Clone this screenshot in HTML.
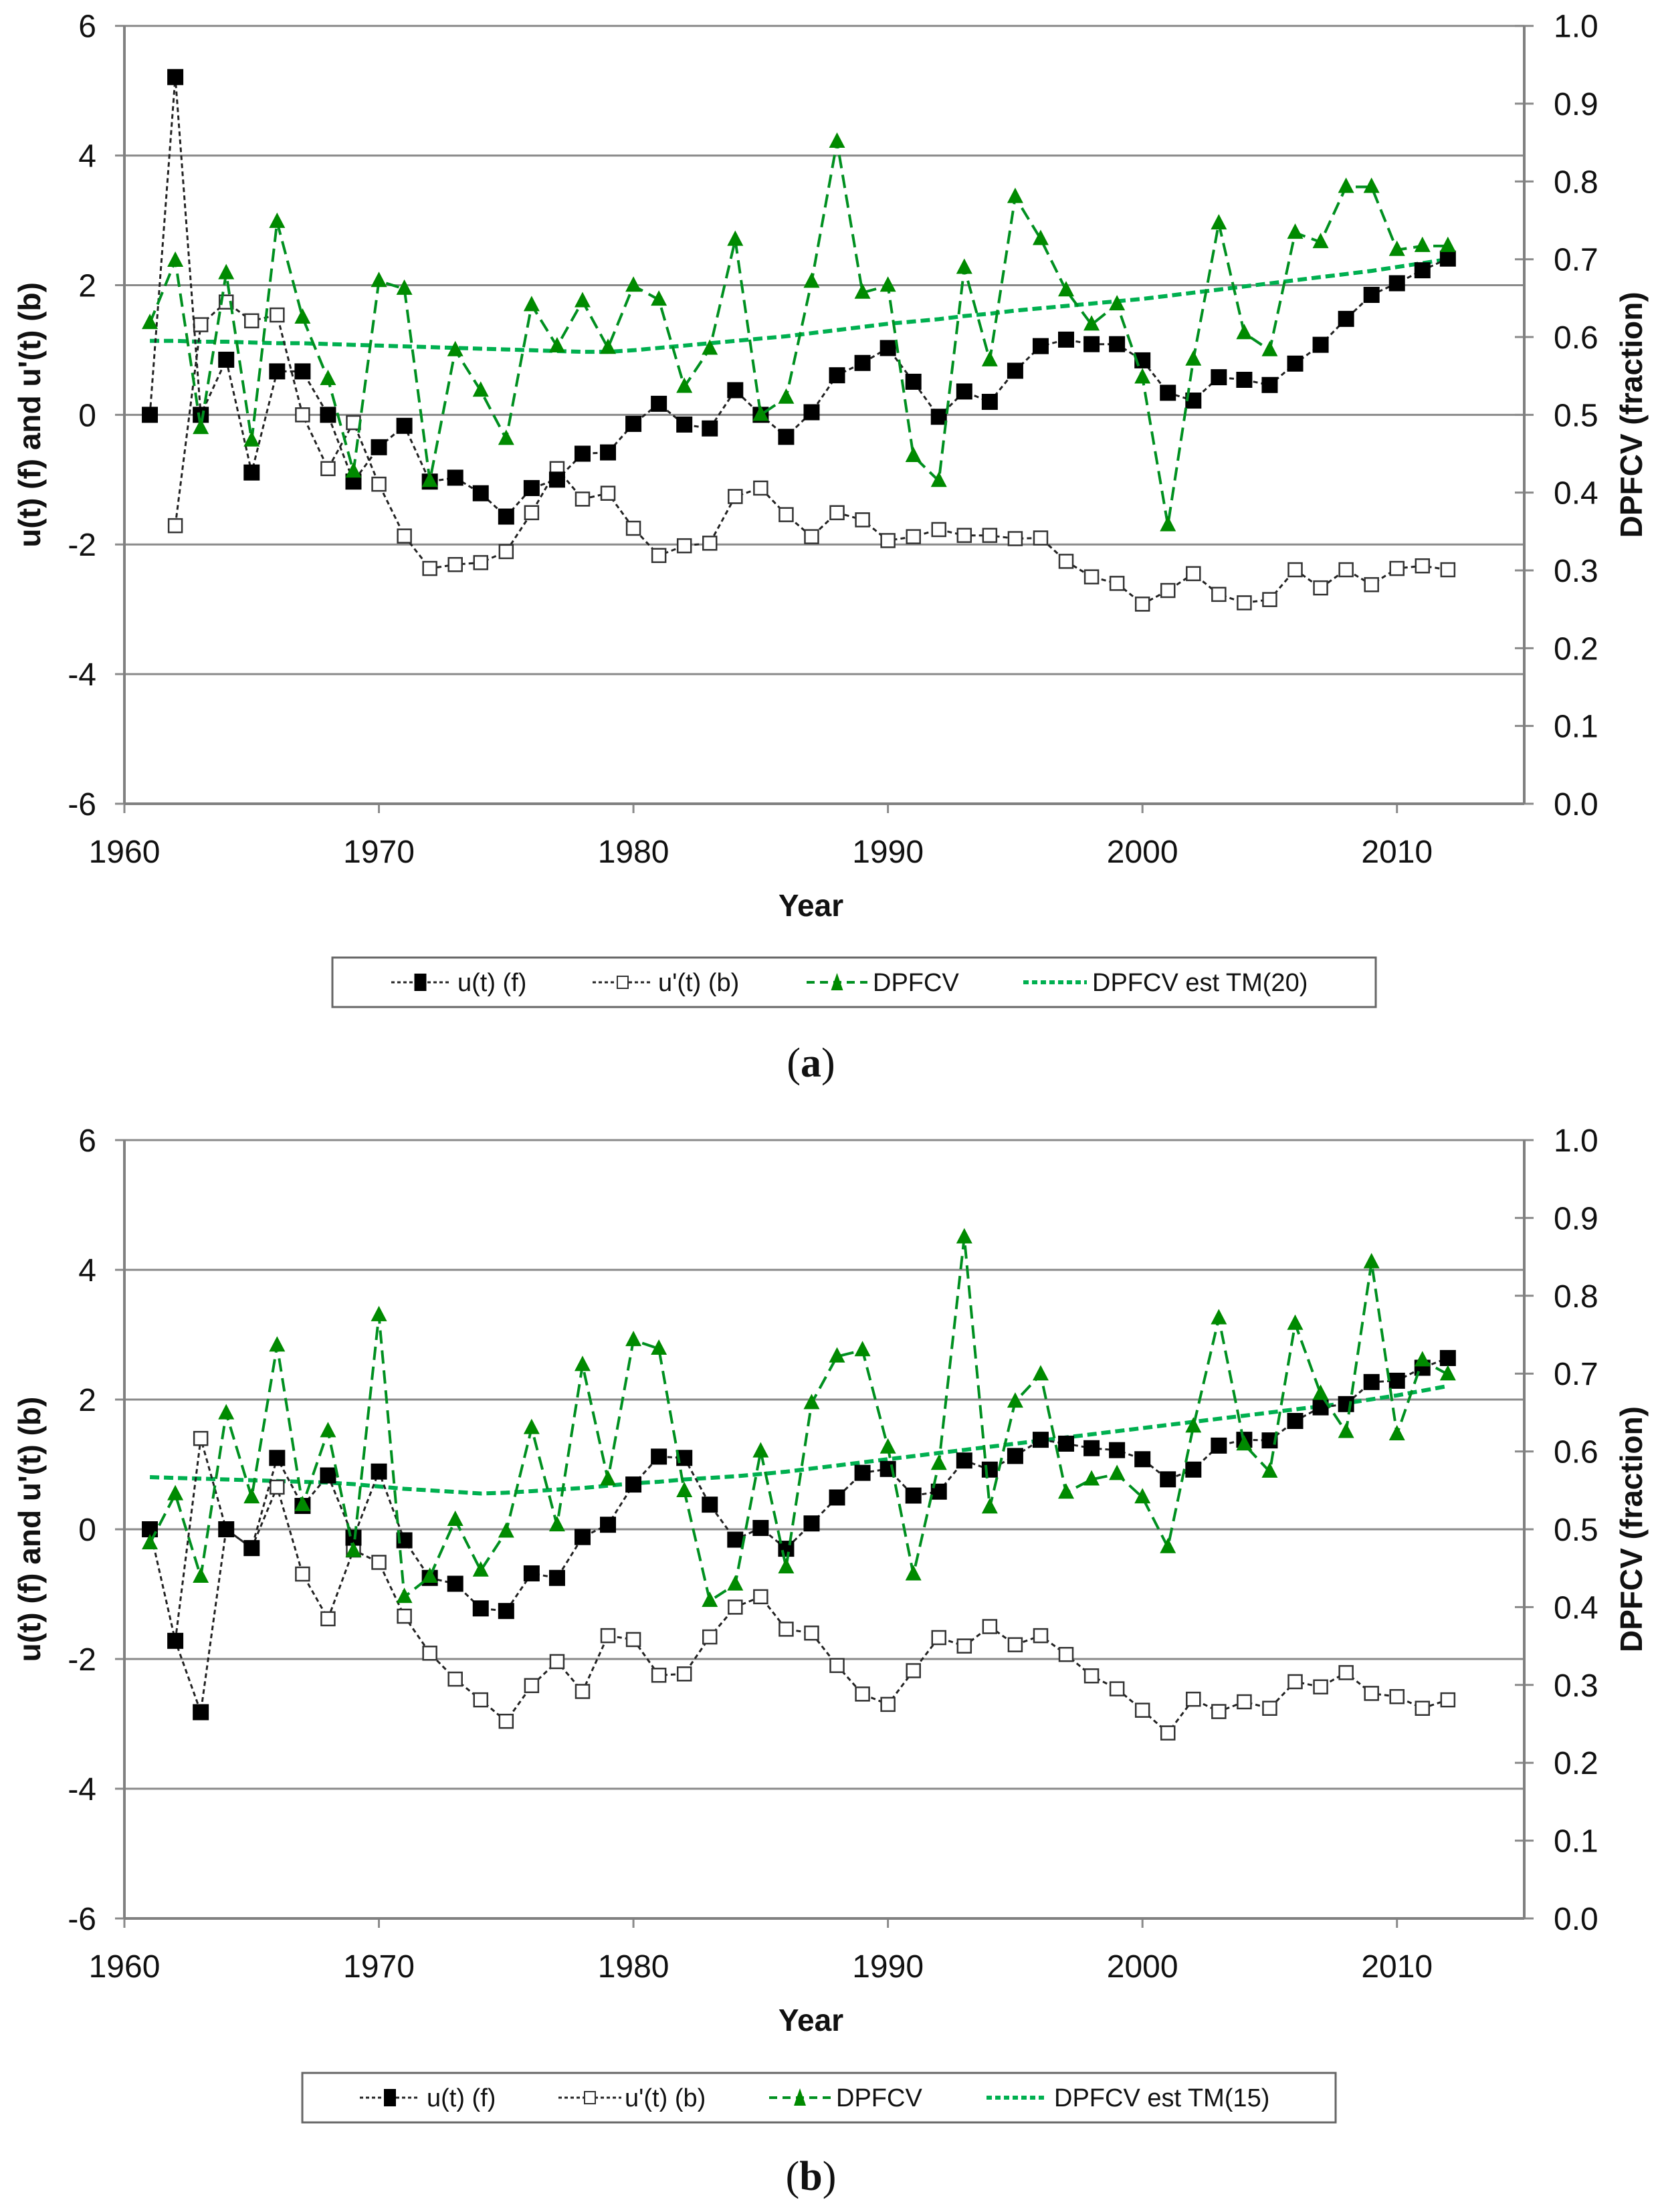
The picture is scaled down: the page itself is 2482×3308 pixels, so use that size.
<!DOCTYPE html>
<html><head><meta charset="utf-8"><style>
html,body{margin:0;padding:0;background:#fff;}
svg{display:block;font-family:"Liberation Sans",sans-serif;}
</style></head><body>
<svg id="fig" width="2482" height="3308" viewBox="0 0 2482 3308" xmlns="http://www.w3.org/2000/svg"></svg>
<script>
const years = [1961,1962,1963,1964,1965,1966,1967,1968,1969,1970,1971,1972,1973,1974,1975,1976,1977,1978,1979,1980,1981,1982,1983,1984,1985,1986,1987,1988,1989,1990,1991,1992,1993,1994,1995,1996,1997,1998,1999,2000,2001,2002,2003,2004,2005,2006,2007,2008,2009,2010,2011,2012];
const xTicks = [1960,1970,1980,1990,2000,2010];
const leftTicks = [-6,-4,-2,0,2,4,6];
const rightTicks = ["0.0","0.1","0.2","0.3","0.4","0.5","0.6","0.7","0.8","0.9","1.0"];

const aUf = [0,5.21,0,0.85,-0.89,0.67,0.67,0,-1.03,-0.5,-0.17,-1.03,-0.97,-1.21,-1.57,-1.13,-1.0,-0.6,-0.58,-0.14,0.17,-0.15,-0.21,0.38,0,-0.34,0.04,0.61,0.8,1.03,0.51,-0.03,0.36,0.2,0.68,1.06,1.16,1.09,1.09,0.84,0.34,0.22,0.58,0.54,0.46,0.79,1.08,1.48,1.85,2.03,2.23,2.41];
const aUb = [null,-1.71,1.39,1.74,1.45,1.54,0,-0.83,-0.12,-1.07,-1.87,-2.37,-2.31,-2.28,-2.11,-1.51,-0.83,-1.3,-1.21,-1.75,-2.17,-2.02,-1.98,-1.26,-1.13,-1.54,-1.88,-1.51,-1.62,-1.94,-1.88,-1.77,-1.86,-1.86,-1.91,-1.9,-2.26,-2.5,-2.6,-2.92,-2.71,-2.45,-2.77,-2.9,-2.85,-2.39,-2.67,-2.39,-2.62,-2.37,-2.33,-2.39];
const aDp = [0.618,0.698,0.483,0.682,0.467,0.748,0.625,0.546,0.427,0.672,0.662,0.415,0.583,0.531,0.469,0.641,0.588,0.646,0.586,0.666,0.648,0.536,0.585,0.725,0.5,0.522,0.671,0.851,0.657,0.666,0.447,0.415,0.689,0.570,0.780,0.726,0.660,0.616,0.642,0.548,0.358,0.571,0.746,0.605,0.583,0.734,0.722,0.793,0.793,0.712,0.717,0.717];
const aTm = [0.595,0.595,0.594,0.594,0.593,0.592,0.592,0.591,0.590,0.589,0.588,0.587,0.586,0.585,0.584,0.583,0.582,0.581,0.581,0.583,0.586,0.589,0.592,0.595,0.598,0.601,0.605,0.609,0.613,0.617,0.620,0.623,0.627,0.630,0.634,0.637,0.640,0.643,0.646,0.649,0.653,0.657,0.661,0.665,0.669,0.673,0.677,0.681,0.685,0.690,0.695,0.700];

const bUf = [0,-1.72,-2.82,0,-0.29,1.1,0.36,0.83,-0.13,0.89,-0.17,-0.75,-0.84,-1.22,-1.26,-0.68,-0.75,-0.12,0.07,0.69,1.12,1.1,0.38,-0.16,0.02,-0.3,0.09,0.49,0.87,0.93,0.52,0.58,1.06,0.92,1.13,1.38,1.32,1.25,1.22,1.08,0.77,0.92,1.29,1.38,1.37,1.67,1.88,1.93,2.27,2.29,2.49,2.64];
const bUb = [null,-1.72,1.4,0,-0.29,0.65,-0.69,-1.38,-0.32,-0.51,-1.34,-1.91,-2.31,-2.63,-2.96,-2.41,-2.04,-2.5,-1.64,-1.7,-2.25,-2.23,-1.66,-1.2,-1.04,-1.54,-1.6,-2.1,-2.54,-2.7,-2.18,-1.67,-1.8,-1.5,-1.78,-1.64,-1.93,-2.26,-2.46,-2.79,-3.14,-2.62,-2.81,-2.66,-2.76,-2.35,-2.43,-2.21,-2.53,-2.58,-2.76,-2.63];
const bDp = [0.482,0.545,0.439,0.649,0.541,0.736,0.531,0.626,0.472,0.775,0.413,0.439,0.512,0.447,0.497,0.630,0.505,0.711,0.564,0.743,0.732,0.549,0.408,0.429,0.6,0.451,0.662,0.722,0.730,0.605,0.442,0.584,0.875,0.528,0.664,0.699,0.547,0.564,0.571,0.541,0.477,0.632,0.771,0.609,0.574,0.764,0.674,0.625,0.843,0.622,0.717,0.699];
const bTm = [0.567,0.566,0.565,0.564,0.563,0.562,0.561,0.560,0.558,0.555,0.552,0.550,0.548,0.546,0.547,0.549,0.551,0.553,0.556,0.559,0.561,0.564,0.566,0.568,0.571,0.574,0.578,0.582,0.586,0.590,0.594,0.598,0.602,0.606,0.610,0.614,0.618,0.622,0.626,0.630,0.634,0.638,0.642,0.646,0.650,0.654,0.658,0.662,0.667,0.672,0.678,0.684];

const NS = "http://www.w3.org/2000/svg";
const svg = document.getElementById('fig');
function mk(tag, attrs, parent){
  const e = document.createElementNS(NS, tag);
  for (const k in attrs) e.setAttribute(k, attrs[k]);
  (parent||svg).appendChild(e);
  return e;
}
const X0 = 186, X1 = 2279;
function xs(y){ return X0 + (y-1960)*(X1-X0)/55; }

function drawChart(top, bottom, uf, ub, dp, tm, tmLabel, legY, legX0, legX1, legEntries, panelLabel, panelY, chartName){
  const g = mk('g', {});
  
  
  const yl = v => bottom - (v+6)*(bottom-top)/12;
  const yr = v => bottom - v*(bottom-top);
  // gridlines
  leftTicks.forEach(t => {
    const l = mk('line', {x1:X0, x2:X1, y1:yl(t), y2:yl(t), stroke:'#8a8a8a', 'stroke-width':3}, g);
    
    
    const tk = mk('line', {x1:X0-14, x2:X0, y1:yl(t), y2:yl(t), stroke:'#8a8a8a', 'stroke-width':3}, g);
    
    
    const tx = mk('text', {x:X0-42, y:yl(t)+17, 'text-anchor':'end', 'font-size':48, fill:'#111'}, g);
    tx.textContent = t;
    
    
  });
  rightTicks.forEach(t => {
    const v = parseFloat(t);
    const tk = mk('line', {x1:X1-14, x2:X1+14, y1:yr(v), y2:yr(v), stroke:'#8a8a8a', 'stroke-width':3}, g);
    
    
    const tx = mk('text', {x:X1+44, y:yr(v)+17, 'text-anchor':'start', 'font-size':48, fill:'#111'}, g);
    tx.textContent = t;
    
    
  });
  xTicks.forEach(t => {
    const tk = mk('line', {x1:xs(t), x2:xs(t), y1:bottom, y2:bottom+14, stroke:'#8a8a8a', 'stroke-width':3}, g);
    
    
    const tx = mk('text', {x:xs(t), y:bottom+88, 'text-anchor':'middle', 'font-size':48, fill:'#111'}, g);
    tx.textContent = t;
    
    
  });
  const axL = mk('line', {x1:X0, x2:X0, y1:top, y2:bottom, stroke:'#808080', 'stroke-width':4}, g);
  
  
  const axR = mk('line', {x1:X1, x2:X1, y1:top, y2:bottom, stroke:'#808080', 'stroke-width':4}, g);
  
  
  const axB = mk('line', {x1:X0, x2:X1, y1:bottom, y2:bottom, stroke:'#808080', 'stroke-width':4}, g);
  
  

  const mid = (top+bottom)/2;
  const yt = mk('text', {x:0, y:0, transform:`translate(60,${mid}) rotate(-90)`, 'text-anchor':'middle', 'font-size':46, 'font-weight':'bold', fill:'#111'}, g);
  yt.textContent = "u(t) (f) and u'(t) (b)";
  
  
  const rt = mk('text', {x:0, y:0, transform:`translate(2455,${mid}) rotate(-90)`, 'text-anchor':'middle', 'font-size':46, 'font-weight':'bold', fill:'#111'}, g);
  rt.textContent = "DPFCV (fraction)";
  
  
  const xt = mk('text', {x:(X0+X1)/2 - 20, y:bottom+168, 'text-anchor':'middle', 'font-size':46, 'font-weight':'bold', fill:'#111'}, g);
  xt.textContent = "Year";
  
  

  function path(vals, f){
    let d = '';
    vals.forEach((v,i) => { if (v===null) return; d += (d?'L':'M') + xs(years[i]).toFixed(1) + ',' + f(v).toFixed(1); });
    return d;
  }
  // trend
  const tp = mk('path', {d:path(tm, yr), fill:'none', stroke:'#00b050', 'stroke-width':6, 'stroke-dasharray':'14 7'}, g);
  
  
  // ub
  const pb = mk('path', {d:path(ub, yl), fill:'none', stroke:'#222', 'stroke-width':3, 'stroke-dasharray':'7 5'}, g);
  
  
  ub.forEach((v,i) => { if (v===null) return;
    const r = mk('rect', {x:xs(years[i])-10, y:yl(v)-10, width:20, height:20, fill:'#fff', stroke:'#333', 'stroke-width':2.5}, g);
    
    
  });
  // uf
  const pf = mk('path', {d:path(uf, yl), fill:'none', stroke:'#222', 'stroke-width':3, 'stroke-dasharray':'7 5'}, g);
  
  
  uf.forEach((v,i) => {
    const r = mk('rect', {x:xs(years[i])-12, y:yl(v)-12, width:24, height:24, fill:'#000'}, g);
    
    
  });
  // dpfcv
  const pd = mk('path', {d:path(dp, yr), fill:'none', stroke:'#009020', 'stroke-width':4, 'stroke-dasharray':'20 10'}, g);
  
  
  dp.forEach((v,i) => {
    const cx = xs(years[i]), cy = yr(v);
    const t = mk('polygon', {points:`${cx},${cy-14} ${cx-12},${cy+9} ${cx+12},${cy+9}`, fill:'#008a00'}, g);
    
    
  });

  // legend
  const lg = mk('g', {}, g);
  
  
  const box = mk('rect', {x:legX0, y:legY-37, width:legX1-legX0, height:74, fill:'#fff', stroke:'#666', 'stroke-width':3}, lg);
  
  
  const labels = ["u(t) (f)", "u'(t) (b)", "DPFCV", tmLabel];
  legEntries.forEach((e,i) => {
    const [sx0, sx1, tx0] = e;
    const ge = mk('g', {}, lg);
    
    
    const c = (sx0+sx1)/2;
    if (i===0 || i===1) {
      mk('line', {x1:sx0, x2:sx1, y1:legY, y2:legY, stroke:'#222', 'stroke-width':3, 'stroke-dasharray':'5 4'}, ge);
      if (i===0) mk('rect', {x:c-9, y:legY-13, width:18, height:26, fill:'#000'}, ge);
      else mk('rect', {x:c-8, y:legY-9, width:16, height:18, fill:'#fff', stroke:'#333', 'stroke-width':2}, ge);
    } else if (i===2) {
      mk('line', {x1:sx0, x2:sx1, y1:legY, y2:legY, stroke:'#009020', 'stroke-width':4, 'stroke-dasharray':'12 8'}, ge);
      mk('polygon', {points:`${c},${legY-14} ${c-9},${legY+12} ${c+9},${legY+12}`, fill:'#008a00'}, ge);
    } else {
      mk('line', {x1:sx0, x2:sx1, y1:legY, y2:legY, stroke:'#00b050', 'stroke-width':6, 'stroke-dasharray':'8 5'}, ge);
    }
    const tx = mk('text', {x:tx0, y:legY+13, 'font-size':38, fill:'#111'}, ge);
    tx.textContent = labels[i];
  });
  const pl = mk('text', {x:(X0+X1)/2 - 20, y:panelY+20, 'text-anchor':'middle', 'font-size':62, 'font-family':'"Liberation Serif",serif', fill:'#111'}, g);
  
  
  const t1 = mk('tspan', {}, pl); t1.textContent = '(';
  const t2 = mk('tspan', {'font-weight':'bold'}, pl); t2.textContent = panelLabel;
  const t3 = mk('tspan', {}, pl); t3.textContent = ')';
}

drawChart(38.7, 1202, aUf, aUb, aDp, aTm, "DPFCV est TM(20)", 1469, 497, 2057,
  [[585,672,684],[886,976,984],[1206,1297,1305],[1530,1625,1633]], 'a', 1590, 'chart-a');
drawChart(1705, 2869, bUf, bUb, bDp, bTm, "DPFCV est TM(15)", 3137, 452, 1997,
  [[538,628,638],[835,929,934],[1150,1242,1250],[1475,1566,1576]], 'b', 3255, 'chart-b');
</script>
</body></html>
